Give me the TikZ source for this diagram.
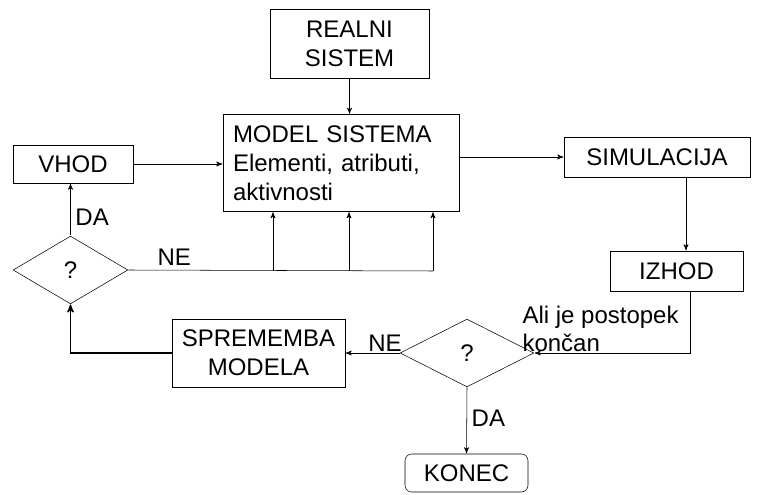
\documentclass[tikz,border=0pt]{standalone}
\usepackage{fontspec}
\setmainfont{Liberation Sans}
\usetikzlibrary{arrows, shapes.geometric, positioning}

\begin{document}
\begin{tikzpicture}[x=0.75pt, y=-0.75pt]
	\tikzset {>=stealth', line width=0.75pt, font=\fontsize{18}{21.6}\selectfont,
		every edge/.append style={->},
		box/.style={draw, inner sep=0pt, align=center},
		choice/.style={draw, diamond, inner sep=0pt, minimum width=#1, minimum height=51pt} }
	\useasboundingbox (0,0) rectangle (758,495);

	\node[box, minimum width=119.25pt, minimum height=51.75pt] (0) at (349.5,43.5) {REALNI\\SISTEM};
	\node[box, align=left, text width=162pt, inner xsep=7.5pt, minimum height=72.75pt] (1) at (341,163) {MODEL SISTEMA\\Elementi, atributi,\\aktivnosti};
	\node[box, minimum width=90pt, minimum height=28.5pt] (2) at (73,164) {VHOD};
	\node[choice=86.25pt] (3) at (70.5,270) {?};
	\node[box, minimum width=139.5pt, minimum height=30pt] (5) at (657,157) {SIMULACIJA};
	\node[box, minimum width=99.75pt, minimum height=30pt] (6) at (676.5,271) {IZHOD};
	\node[choice=100.5pt] (7) at (467,353) {?};
	\node[box, minimum width=129.75pt, minimum height=51pt] (8) at (258.5,353) {SPREMEMBA\\MODELA};
	\node[box, rounded corners=5pt, minimum width=92.25pt, minimum height=28.5pt] (9) at (466.5,473) {KONEC};
	\node[anchor=west, align=left, inner sep=0pt] (10) at (522,329) {Ali je postopek\\končan};

	\coordinate (c1) at (273,271);
	\coordinate (c2) at (349,271);
	\coordinate (c3) at (433,271);

	\draw
		(0) edge (0 |- 1.north)
		(2) edge (2 -| 1.west)
		(5.west -| 1.east) edge (5.west)
		([xshift=21.75pt]5.south) edge ([xshift=21.75pt]5.south |- 6.north)
		(3.north) edge node[right, pos=0.35] {DA} (3.north |- 2.south)
		(7.west) edge node[above, pos=0.27, inner sep=1pt] {NE} (8.east)
		(7.south) edge node[right, pos=0.46] {DA} (9.north)
		(c1) edge (c1 |- 1.south)
		(c2) edge (c2 |- 1.south)
		(c3) edge (c3 |- 1.south);

	\draw (3.east) -- node[above, pos=0.15] {NE} (c3);
	\draw[->] ([xshift=10pt]6.south) |- (7.east);
	\draw[->, line width=1.1pt] (8.west) -| (3.south);
\end{tikzpicture}
\end{document}
